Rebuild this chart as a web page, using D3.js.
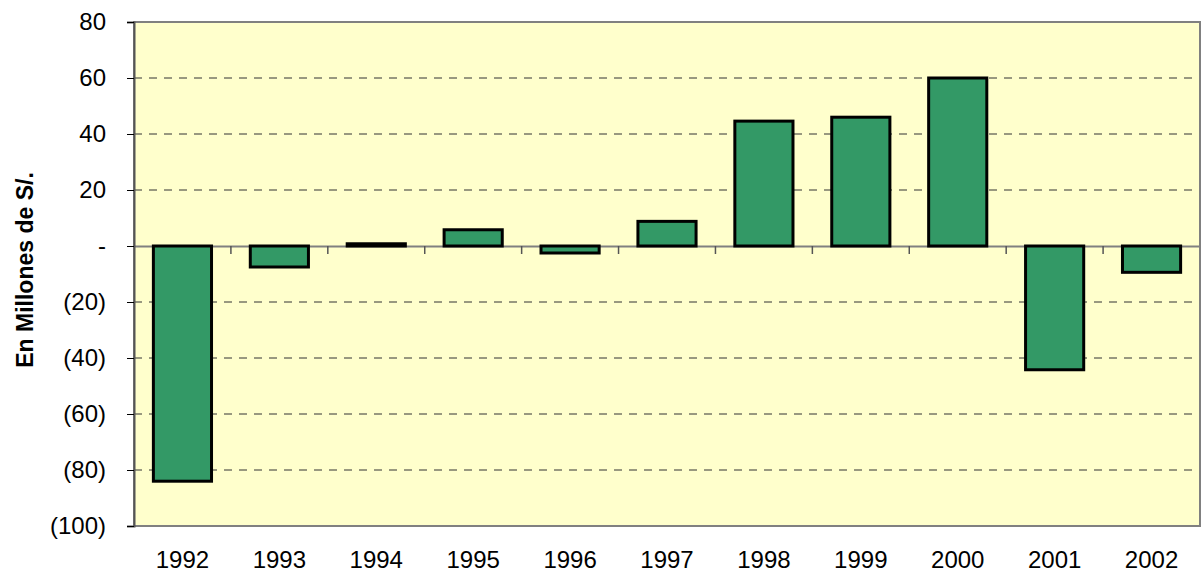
<!DOCTYPE html>
<html>
<head>
<meta charset="utf-8">
<script src="https://cdn.jsdelivr.net/npm/d3@7"></script>
<style>
  body { margin: 0; background: #fff; }
  svg { display: block; font-family: "Liberation Sans", Arial, sans-serif; }
</style>
</head>
<body>
<svg class="chart"></svg>
<script>
const years = ["1992", "1993", "1994", "1995", "1996", "1997", "1998", "1999", "2000", "2001", "2002"];
const values = [-84, -7.5, 0.8, 5.8, -2.5, 8.8, 44.6, 46, 60, -44.2, -9.4];
const yTicks = [80, 60, 40, 20, 0, -20, -40, -60, -80, -100];
const yTitle = "En Millones de S/.";

const width = 1202;
const height = 574;
const marginTop = 22;
const marginRight = 2;
const marginBottom = 48;
const marginLeft = 134;

const x = d3.scaleBand()
  .domain(years)
  .range([marginLeft, width - marginRight])
  .paddingInner(0.4)
  .paddingOuter(0.2);

const y = d3.scaleLinear()
  .domain([-100, 80])
  .range([height - marginBottom, marginTop]);

const fmt = v => v === 0 ? "-" : v < 0 ? `(${-v})` : `${v}`;

const svg = d3.select("svg.chart")
  .attr("width", width)
  .attr("height", height)
  .attr("viewBox", `0 0 ${width} ${height}`);

// plot background
svg.append("rect")
  .attr("x", marginLeft)
  .attr("y", marginTop)
  .attr("width", width - marginRight - marginLeft)
  .attr("height", height - marginBottom - marginTop)
  .attr("fill", "#ffffcc");

// dashed gridlines
svg.append("g")
  .selectAll("line")
  .data(yTicks.filter(d => d !== 0 && d !== 80 && d !== -100))
  .join("line")
  .attr("x1", marginLeft)
  .attr("x2", width - marginRight)
  .attr("y1", d => y(d))
  .attr("y2", d => y(d))
  .attr("stroke", "#333")
  .attr("stroke-width", 1)
  .attr("stroke-dasharray", "8,7");

// zero line with category ticks
const zeroAxis = svg.append("g")
  .attr("transform", `translate(0,${y(0)})`)
  .call(d3.axisBottom(x).tickSize(0).tickFormat(""));
zeroAxis.select(".domain").attr("stroke", "#808080").attr("stroke-width", 2);
zeroAxis.selectAll(".tick").remove();
zeroAxis.selectAll("line.sep")
  .data(years.slice(1))
  .join("line")
  .attr("class", "sep")
  .attr("x1", d => x(d) - x.step() * x.paddingInner() / 2)
  .attr("x2", d => x(d) - x.step() * x.paddingInner() / 2)
  .attr("y1", 0)
  .attr("y2", 8)
  .attr("stroke", "#555")
  .attr("stroke-width", 1.5);

// bars
svg.append("g")
  .selectAll("rect")
  .data(years.map((d, i) => ({ year: d, value: values[i] })))
  .join("rect")
  .attr("x", d => x(d.year))
  .attr("width", x.bandwidth())
  .attr("y", d => y(Math.max(0, d.value)))
  .attr("height", d => Math.abs(y(d.value) - y(0)))
  .attr("fill", "#339966")
  .attr("stroke", "#000")
  .attr("stroke-width", 3);

// plot border
svg.append("rect")
  .attr("x", marginLeft)
  .attr("y", marginTop)
  .attr("width", width - marginRight - marginLeft)
  .attr("height", height - marginBottom - marginTop)
  .attr("fill", "none")
  .attr("stroke", "#808080")
  .attr("stroke-width", 2);

// left axis
const yAxis = svg.append("g")
  .attr("transform", `translate(${marginLeft},0)`)
  .call(d3.axisLeft(y).tickValues(yTicks).tickFormat(fmt).tickSize(7).tickPadding(21));
yAxis.select(".domain").attr("stroke", "#555").attr("stroke-width", 2);
yAxis.selectAll(".tick line").attr("stroke", "#000");
yAxis.selectAll(".tick text")
  .attr("font-size", 24)
  .attr("fill", "#000")
  .style("font-family", "'Liberation Sans', Arial, sans-serif");

// x labels
svg.append("g")
  .selectAll("text")
  .data(years)
  .join("text")
  .attr("x", d => x(d) + x.bandwidth() / 2)
  .attr("y", height - 6)
  .attr("text-anchor", "middle")
  .attr("font-size", 24)
  .attr("fill", "#000")
  .text(d => d);

// y title
svg.append("text")
  .attr("transform", `translate(33,270) rotate(-90)`)
  .attr("text-anchor", "middle")
  .attr("font-size", 23)
  .attr("font-weight", "bold")
  .attr("fill", "#000")
  .text(yTitle);
</script>
</body>
</html>
